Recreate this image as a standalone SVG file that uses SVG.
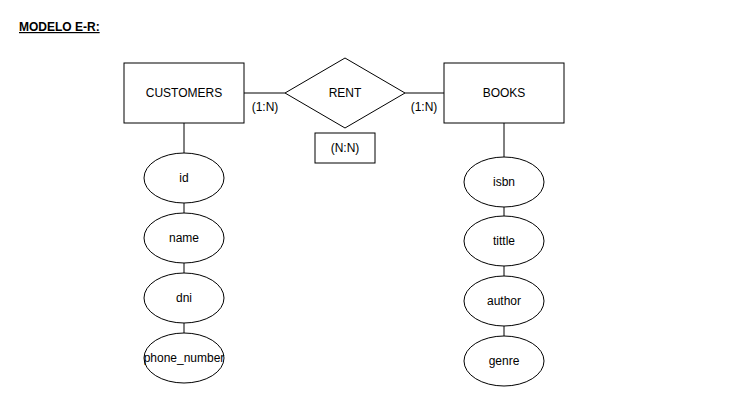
<svg xmlns="http://www.w3.org/2000/svg" width="729" height="406" viewBox="0 0 729 406">
<style>
.s{fill:#fff;stroke:#000;stroke-width:1}
.t{font-family:"Liberation Sans",Arial,sans-serif;font-size:12px;fill:#000;text-anchor:middle;dominant-baseline:central}
.c{stroke:#000;stroke-width:1;fill:none}
</style>
<rect width="729" height="406" fill="#fff"/>
<text x="19" y="31" font-family="Liberation Sans,Arial,sans-serif" font-size="12" font-weight="bold" text-decoration="underline">MODELO E-R:</text>
<g id="connectors">
<line class="c" x1="244" y1="93" x2="285" y2="93"/>
<line class="c" x1="405" y1="93" x2="444" y2="93"/>
<line class="c" x1="184" y1="123" x2="184" y2="153"/>
<line class="c" x1="184" y1="203" x2="184" y2="213"/>
<line class="c" x1="184" y1="263" x2="184" y2="273"/>
<line class="c" x1="184" y1="323" x2="184" y2="333"/>
<line class="c" x1="504" y1="123" x2="504" y2="157"/>
<line class="c" x1="504" y1="207" x2="504" y2="216"/>
<line class="c" x1="504" y1="266" x2="504" y2="276"/>
<line class="c" x1="504" y1="326" x2="504" y2="336"/>
</g>
<g id="customers"><rect class="s" x="124" y="63" width="120" height="60"/><text class="t" x="184" y="93">CUSTOMERS</text></g>
<g id="rent"><polygon class="s" points="345,58 405,93 345,128 285,93"/><text class="t" x="345" y="93">RENT</text></g>
<g id="nn"><rect class="s" x="315" y="133" width="60" height="30"/><text class="t" x="345" y="148">(N:N)</text></g>
<g id="card1"><text class="t" x="265" y="107">(1:N)</text></g>
<g id="card2"><text class="t" x="424" y="107">(1:N)</text></g>
<g id="books"><rect class="s" x="444" y="63" width="120" height="60"/><text class="t" x="504" y="93">BOOKS</text></g>
<g id="id"><ellipse class="s" cx="184" cy="178" rx="40" ry="25"/><text class="t" x="184" y="178">id</text></g>
<g id="name"><ellipse class="s" cx="184" cy="238" rx="40" ry="25"/><text class="t" x="184" y="238">name</text></g>
<g id="dni"><ellipse class="s" cx="184" cy="298" rx="40" ry="25"/><text class="t" x="184" y="298">dni</text></g>
<g id="phone_number"><ellipse class="s" cx="184" cy="358" rx="40" ry="25"/><text class="t" x="184" y="358">phone_number</text></g>
<g id="isbn"><ellipse class="s" cx="504" cy="182" rx="40" ry="25"/><text class="t" x="504" y="182">isbn</text></g>
<g id="tittle"><ellipse class="s" cx="504" cy="241" rx="40" ry="25"/><text class="t" x="504" y="241">tittle</text></g>
<g id="author"><ellipse class="s" cx="504" cy="301" rx="40" ry="25"/><text class="t" x="504" y="301">author</text></g>
<g id="genre"><ellipse class="s" cx="504" cy="361" rx="40" ry="25"/><text class="t" x="504" y="361">genre</text></g>
</svg>
